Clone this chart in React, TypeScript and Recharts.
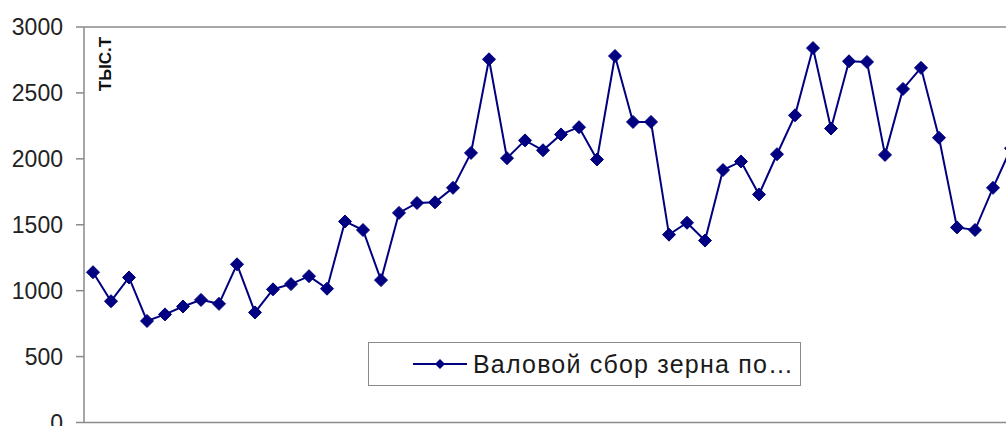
import { LineChart, Line, XAxis, YAxis, ReferenceLine, Legend } from "recharts";

// валовой сбор зерна, тыс. т
const harvest = [
  1140, 920, 1100, 770, 820, 880, 930, 900, 1200, 835, 1010, 1050, 1110, 1015,
  1525, 1460, 1080, 1590, 1665, 1670, 1780, 2045, 2755, 2005, 2140, 2065, 2185,
  2240, 1995, 2780, 2280, 2280, 1425, 1515, 1380, 1915, 1980, 1730, 2035, 2330,
  2840, 2230, 2740, 2735, 2030, 2530, 2690, 2160, 1480, 1460, 1780, 2080,
];
const yTicks = [0, 500, 1000, 1500, 2000, 2500, 3000];
const seriesName = "Валовой сбор зерна по…";
const unitLabel = "ТЫС.Т";

const data = harvest.map((v, i) => ({ idx: i + 1, value: v }));

const NAVY = "#000080";
const AXIS = "#8a8a8a";
const FONT = "'Liberation Sans', Arial, sans-serif";

function Diamond(props: any) {
  const { cx, cy } = props;
  if (cx == null || cy == null) return null;
  const r = 6.5;
  return (
    <polygon
      points={`${cx},${cy - r} ${cx + r},${cy} ${cx},${cy + r} ${cx - r},${cy}`}
      fill={NAVY}
      stroke={NAVY}
      strokeWidth={1}
    />
  );
}

function LegendBox() {
  return (
    <div
      style={{
        width: 433,
        height: 44,
        border: "1px solid #8a8a8a",
        background: "#fff",
        display: "flex",
        alignItems: "center",
        boxSizing: "border-box",
        fontFamily: FONT,
      }}
    >
      <svg width={104} height={44} style={{ flex: "none" }}>
        <line x1={44} y1={22} x2={98} y2={22} stroke={NAVY} strokeWidth={2} />
        <polygon points="71,17 76,22 71,27 66,22" fill={NAVY} />
      </svg>
      <span
        style={{
          fontSize: 25,
          letterSpacing: 1.2,
          color: "#1a1a1a",
          whiteSpace: "nowrap",
        }}
      >
        {seriesName}
      </span>
    </div>
  );
}

export default function App() {
  return (
    <div
      style={{
        position: "fixed",
        left: 0,
        top: 0,
        width: 1006,
        height: 426,
        overflow: "hidden",
        background: "#fff",
      }}
    >
      <LineChart
        width={1030}
        height={440}
        data={data}
        margin={{ top: 27, right: 10, bottom: 17.5, left: 0 }}
      >
        <XAxis dataKey="idx" type="number" domain={[0.5, 52.5]} hide />
        <YAxis
          domain={[0, 3000]}
          ticks={yTicks}
          interval={0}
          width={84}
          tickSize={8}
          tickMargin={13}
          axisLine={{ stroke: AXIS, strokeWidth: 1.5 }}
          tickLine={{ stroke: AXIS, strokeWidth: 1.5 }}
          tick={{ fontSize: 23, fill: "#222", fontFamily: FONT }}
        />
        <ReferenceLine y={3000} stroke={AXIS} strokeWidth={1.5} />
        <ReferenceLine y={0} stroke={AXIS} strokeWidth={1.5} />
        <Legend
          layout="horizontal"
          verticalAlign="middle"
          align="center"
          content={() => <LegendBox />}
          wrapperStyle={{ left: 368, top: 342, width: 433 }}
        />
        <Line
          dataKey="value"
          name={seriesName}
          stroke={NAVY}
          strokeWidth={2}
          dot={<Diamond />}
          activeDot={false}
          isAnimationActive={false}
        />
      </LineChart>
      <div
        style={{
          position: "absolute",
          left: 106,
          top: 64,
          transform: "translate(-50%, -50%) rotate(-90deg)",
          fontFamily: FONT,
          fontWeight: "bold",
          fontSize: 17,
          color: "#111",
          whiteSpace: "nowrap",
        }}
      >
        {unitLabel}
      </div>
    </div>
  );
}
